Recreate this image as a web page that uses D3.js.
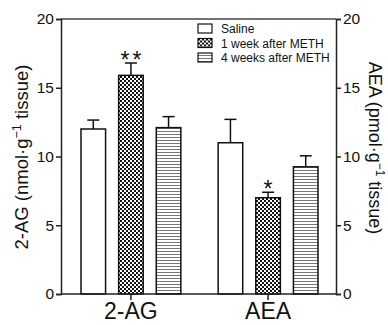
<!DOCTYPE html>
<html>
<head>
<meta charset="utf-8">
<script src="https://cdn.jsdelivr.net/npm/d3@7"></script>
<style>
  body { margin: 0; background: #fff; }
  text { font-family: "Liberation Sans", Arial, sans-serif; fill: #111; }
</style>
</head>
<body>
<div id="chart"></div>
<script>
// data
const groups = ["2-AG", "AEA"];
const series = ["Saline", "1 week after METH", "4 weeks after METH"];
const means = [[12.0, 15.9, 12.1], [11.0, 7.0, 9.25]];
const errors = [[0.65, 0.9, 0.8], [1.7, 0.4, 0.8]];
const stars = [["", "**", ""], ["", "*", ""]];
const yTicks = [0, 5, 10, 15, 20];

const width = 388;
const height = 325;
const margin = { top: 19, right: 52, bottom: 31, left: 61 };

const svg = d3.select("#chart").append("svg")
  .attr("width", width).attr("height", height);

// fill patterns
const defs = svg.append("defs");
const checker = defs.append("pattern")
  .attr("id", "checker").attr("patternUnits", "userSpaceOnUse")
  .attr("width", 4).attr("height", 4);
checker.append("rect").attr("width", 4).attr("height", 4).attr("fill", "#fff");
checker.append("rect").attr("width", 2).attr("height", 2).attr("fill", "#111");
checker.append("rect").attr("x", 2).attr("y", 2).attr("width", 2).attr("height", 2).attr("fill", "#111");

const stripes = defs.append("pattern")
  .attr("id", "stripes").attr("patternUnits", "userSpaceOnUse")
  .attr("width", 4).attr("height", 3);
stripes.append("rect").attr("width", 4).attr("height", 3).attr("fill", "#fff");
stripes.append("rect").attr("y", 2).attr("width", 4).attr("height", 1).attr("fill", "#777");

const fills = ["#fff", "url(#checker)", "url(#stripes)"];

const x0 = d3.scaleBand().domain(groups)
  .range([81, 318]).paddingInner(0.272).paddingOuter(0);
const x1 = d3.scaleBand().domain(series)
  .range([0, x0.bandwidth()]).paddingInner(0.347);
const y = d3.scaleLinear().domain([0, 20]).range([height - margin.bottom, margin.top]);

const axisColor = "#222";

// top frame
svg.append("line")
  .attr("x1", margin.left).attr("x2", width - margin.right)
  .attr("y1", y(20)).attr("y2", y(20))
  .attr("stroke", "#444").attr("stroke-width", 1.5);

// bars
const g = svg.append("g");
groups.forEach((grp, gi) => {
  series.forEach((s, si) => {
    const bx = x0(grp) + x1(s);
    const bw = x1.bandwidth();
    const cx = bx + bw / 2;
    const v = means[gi][si];
    const e = errors[gi][si];
    // error bar (upper only)
    g.append("line").attr("x1", cx).attr("x2", cx)
      .attr("y1", y(v)).attr("y2", y(v + e))
      .attr("stroke", "#111").attr("stroke-width", 1.5);
    g.append("line").attr("x1", cx - 6).attr("x2", cx + 6)
      .attr("y1", y(v + e)).attr("y2", y(v + e))
      .attr("stroke", "#111").attr("stroke-width", 1.5);
    g.append("rect")
      .attr("x", bx).attr("y", y(v))
      .attr("width", bw).attr("height", y(0) - y(v))
      .attr("fill", fills[si]).attr("stroke", "#111").attr("stroke-width", 1.5);
    if (stars[gi][si]) {
      g.append("text")
        .attr("x", cx + 1.5).attr("y", y(v + e) + 5)
        .attr("text-anchor", "middle")
        .attr("font-size", 23)
        .attr("letter-spacing", 3)
        .text(stars[gi][si]);
    }
  });
});

// left axis
const leftAxis = svg.append("g")
  .attr("transform", `translate(${margin.left},0)`)
  .call(d3.axisLeft(y).tickValues(yTicks).tickSize(5).tickPadding(2));
leftAxis.selectAll("text").attr("font-size", 15.5);

// right axis
const rightAxis = svg.append("g")
  .attr("transform", `translate(${width - margin.right},0)`)
  .call(d3.axisRight(y).tickValues(yTicks).tickSize(5).tickPadding(2));
rightAxis.selectAll("text").attr("font-size", 15.5);

// bottom axis
const bottomAxis = svg.append("g")
  .attr("transform", `translate(0,${y(0)})`)
  .call(d3.axisBottom(x0).tickSize(6).tickPadding(3));
bottomAxis.select(".domain").attr("d", `M${margin.left},0H${width - margin.right}`);
bottomAxis.selectAll("text").attr("font-size", 23);

svg.selectAll(".domain, .tick line").attr("stroke", axisColor).attr("stroke-width", 1.5);
svg.selectAll(".tick text").attr("fill", "#111").attr("font-family", "'Liberation Sans', Arial, sans-serif");

// axis titles
const lt = svg.append("text")
  .attr("transform", "translate(28,157) rotate(-90)")
  .attr("text-anchor", "middle").attr("font-size", 18.5);
lt.append("tspan").text("2-AG (nmol·g");
lt.append("tspan").attr("dy", -7).attr("font-size", 12.5).text("−1");
lt.append("tspan").attr("dy", 7).text(" tissue)");

const rt = svg.append("text")
  .attr("transform", "translate(369,148) rotate(90)")
  .attr("text-anchor", "middle").attr("font-size", 18);
rt.append("tspan").text("AEA (pmol·g");
rt.append("tspan").attr("dy", -7).attr("font-size", 12).text("−1");
rt.append("tspan").attr("dy", 7).text(" tissue)");

// legend
const legend = svg.append("g").attr("transform", "translate(198,24)");
series.forEach((s, i) => {
  const row = legend.append("g").attr("transform", `translate(0,${i * 14.5})`);
  row.append("rect").attr("width", 14).attr("height", 9)
    .attr("fill", fills[i]).attr("stroke", "#111").attr("stroke-width", 1.2);
  row.append("text").attr("x", 23).attr("y", 9)
    .attr("font-size", 12).text(s);
});
</script>
</body>
</html>
